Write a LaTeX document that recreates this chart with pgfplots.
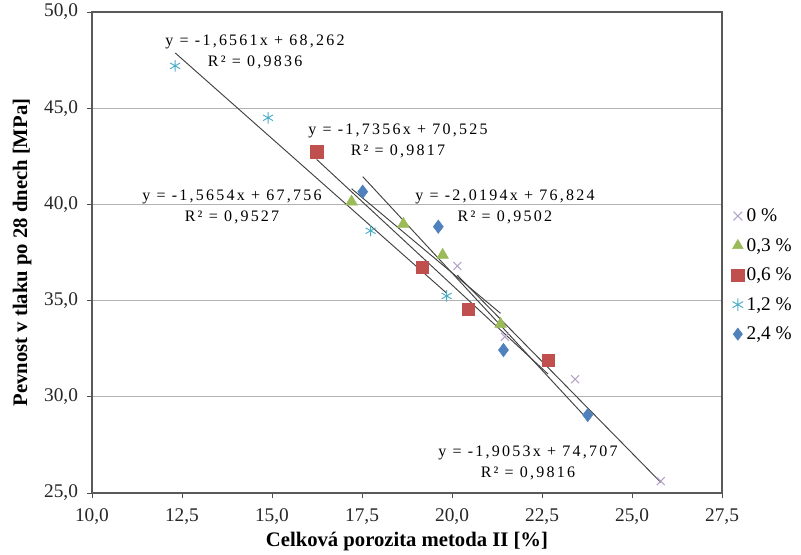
\documentclass[border=0pt]{standalone}
\usepackage{pgfplots}
\pgfplotsset{compat=1.18}
\usepackage{fontspec}
\setmainfont{Liberation Serif}

\definecolor{cZero}{HTML}{B3A2C7}
\definecolor{cThree}{HTML}{9BBB59}
\definecolor{cSix}{HTML}{C0504D}
\definecolor{cTwelve}{HTML}{4BACC6}
\definecolor{cTwentyFour}{HTML}{4F81BD}
\definecolor{trend}{HTML}{404040}

\newcommand{\eqfont}{\fontsize{12}{16}\selectfont\addfontfeatures{LetterSpace=14}}

\begin{document}
\begin{tikzpicture}
\begin{axis}[
  scale only axis,
  width=472.5pt, height=360.75pt,
  xmin=10, xmax=27.5, ymin=25, ymax=50,
  xtick={10,12.5,...,27.5},
  ytick={25,30,...,50},
  /pgf/number format/.cd, use comma, fixed, fixed zerofill, precision=1, assume math mode=true,
  /pgfplots/.cd,
  tick label style={font=\fontsize{14.5}{17}\selectfont, text=black!85},
  yticklabel style={xshift=-3pt},
  xticklabel style={yshift=-4pt},
  axis line style={draw=black!65, line width=1pt},
  tick align=outside,
  xtick pos=bottom, ytick pos=left,
  tick style={black!70, line width=0.6pt},
  major tick length=4pt,
  ymajorgrids,
  grid style={black!30, line width=0.8pt},
  xlabel={\textbf{Celková porozita metoda II [\%]}},
  ylabel={\textbf{Pevnost v tlaku po 28 dnech [MPa]}},
  label style={font=\fontsize{15.5}{17}\selectfont},
  xlabel style={at={(axis description cs:0.5,-0.1)}, anchor=center},
  ylabel style={at={(axis description cs:-0.111,0.5)}, anchor=center},
  legend style={at={(1.015,0.453)}, anchor=west, draw=none, fill=none,
    font=\fontsize{14.5}{16}\selectfont, row sep=7pt,
    legend cell align=left, inner xsep=0pt},
  legend image code/.code={\draw[#1] (0.2cm,0cm) -- plot coordinates {(0.2cm,0cm)};},
  legend image post style={mark size=4.6pt},
  clip=false,
]
% measured points
\addplot[only marks, mark=x, mark size=4.2pt, draw=cZero, line width=0.8pt]
  coordinates {(20.15,36.80) (21.47,33.12) (23.42,30.91) (25.80,25.62)};
\addlegendentry{0 \%}
\addplot[only marks, mark=triangle*, mark size=5pt, draw=cThree, fill=cThree]
  coordinates {(17.21,40.14) (18.65,38.98) (19.74,37.37) (21.35,33.78)};
\addlegendentry{0,3 \%}
\addplot[only marks, mark=square*, mark size=4.6pt, draw=cSix, fill=cSix]
  coordinates {(16.24,42.74) (19.18,36.73) (20.45,34.55) (22.67,31.91)};
\addlegendentry{0,6 \%}
\addplot[only marks, mark=asterisk, mark size=4.3pt, draw=cTwelve, line width=0.7pt]
  coordinates {(12.31,47.20) (14.89,44.50) (17.74,38.63) (19.85,35.24)};
\addlegendentry{1,2 \%}
\addplot[only marks, mark=diamond*, mark size=5pt, draw=cTwentyFour, fill=cTwentyFour]
  coordinates {(17.52,40.66) (19.62,38.84) (21.43,32.43) (23.77,29.05)};
\addlegendentry{2,4 \%}

% linear trend lines (end points from the fitted equations)
\addplot[trend, line width=0.7pt, forget plot] coordinates {(20.15,36.315) (25.80,25.550)};
\addplot[trend, line width=0.7pt, forget plot] coordinates {(17.21,40.815) (21.35,34.335)};
\addplot[trend, line width=0.7pt, forget plot] coordinates {(16.24,42.339) (22.67,31.179)};
\addplot[trend, line width=0.7pt, forget plot] coordinates {(12.31,47.875) (19.85,35.388)};
\addplot[trend, line width=0.7pt, forget plot] coordinates {(17.52,41.444) (23.77,28.823)};

% equations of the trend lines
\begin{scope}[every node/.style={align=center, font=\eqfont, inner sep=0pt}]
\node at (axis cs:14.53,47.92) {y = -1,6561x + 68,262\\R² = 0,9836};
\node at (axis cs:18.50,43.30) {y = -1,7356x + 70,525\\R² = 0,9817};
\node at (axis cs:13.89,39.86) {y = -1,5654x + 67,756\\R² = 0,9527};
\node at (axis cs:21.47,39.86) {y = -2,0194x + 76,824\\R² = 0,9502};
\node at (axis cs:22.11,26.56) {y = -1,9053x + 74,707\\R² = 0,9816};
\end{scope}
\end{axis}
% page frame around the chart
\pgfresetboundingbox
\path (-69pt,-46.5pt) rectangle (531.75pt,369.75pt);
\end{tikzpicture}
\end{document}
